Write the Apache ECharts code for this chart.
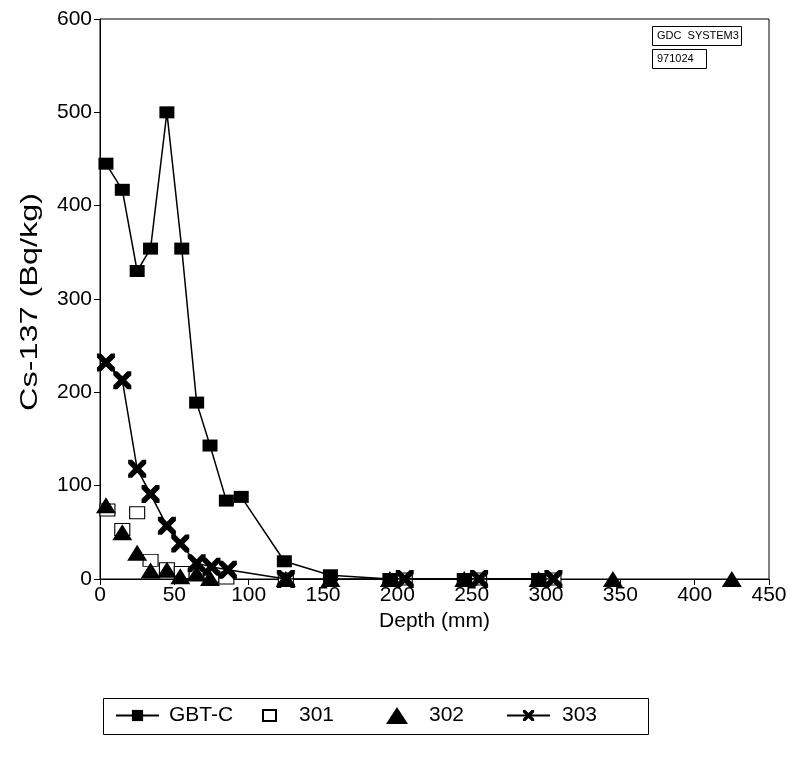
<!DOCTYPE html>
<html>
<head>
<meta charset="utf-8">
<script src="https://cdn.jsdelivr.net/npm/echarts@6/dist/echarts.min.js"></script>
<style>
html,body{margin:0;padding:0;background:#fff;}
#chart{width:794px;height:767px;}
</style>
</head>
<body>
<div id="chart"></div>
<script>
// Data
const gbtDepth = [4, 15, 25, 34, 45, 55, 65, 74, 85, 95, 124, 155, 195, 245, 295];
const gbtCs    = [445, 417, 330, 354, 500, 354, 189, 143, 84, 88, 19, 4, 0, 0, 0];

const s301Depth = [5, 15, 25, 34, 45, 55, 65, 75, 85, 125, 205, 255, 305];
const s301Cs    = [74, 53, 71, 20, 11, 7, 5, 3, 1, 0, 0, 0, 0];

const s302Depth = [4, 15, 25, 34, 45, 54, 65, 74, 125, 155, 195, 245, 295, 345, 425];
const s302Cs    = [79, 50, 28, 9, 10, 3, 6, 1, 0, 0, 0, 0, 0, 0, 0];

const s303Depth = [4, 15, 25, 34, 45, 54, 65, 75, 86, 125, 205, 255, 305];
const s303Cs    = [232, 213, 118, 91, 57, 38, 17, 13, 10, 0, 0, 0, 0];

const seriesNames = ['GBT-C', '301', '302', '303'];
const xTicks = [0, 450, 50];
const yTicks = [0, 600, 100];
const xTitle = 'Depth (mm)';
const yTitle = 'Cs-137 (Bq/kg)';
const noteLines = ['GDC  SYSTEM3', '971024'];

function pairs(xs, ys) { return xs.map((x, i) => [x, ys[i]]); }

const FONT = '"Liberation Sans", Arial, sans-serif';
const xPath = 'path://M0,0 L2.2,0 L5,2.8 L7.8,0 L10,0 L10,2.2 L7.2,5 L10,7.8 L10,10 L7.8,10 L5,7.2 L2.2,10 L0,10 L0,7.8 L2.8,5 L0,2.2 Z';

const chart = echarts.init(document.getElementById('chart'), null, {renderer: 'canvas'});

function legendAt(name, left, w, h, gap) {
  return {
    data: [name],
    left: left, top: 705,
    itemWidth: w, itemHeight: h, itemGap: 0,
    padding: 0,
    textStyle: {fontFamily: FONT, fontSize: 21, color: '#000', padding: [0, 0, 0, gap - 5]},
    selectedMode: false
  };
}

const option = {
  backgroundColor: '#fff',
  animation: false,
  grid: {left: 100, right: 25, top: 19, bottom: 188, show: true, borderColor: '#000', borderWidth: 1},
  xAxis: {
    type: 'value', min: xTicks[0], max: xTicks[1], interval: xTicks[2],
    name: xTitle, nameLocation: 'middle', nameGap: 18,
    nameTextStyle: {fontFamily: FONT, fontSize: 21, color: '#000'},
    axisLine: {show: true, lineStyle: {color: '#000', width: 1}},
    axisTick: {show: true, inside: false, length: 6, lineStyle: {color: '#000'}},
    axisLabel: {fontFamily: FONT, fontSize: 21, color: '#000', margin: 6},
    splitLine: {show: false}
  },
  yAxis: {
    type: 'value', min: yTicks[0], max: yTicks[1], interval: yTicks[2],
    axisLine: {show: true, lineStyle: {color: '#000', width: 1}},
    axisTick: {show: true, inside: false, length: 6, lineStyle: {color: '#000'}},
    axisLabel: {fontFamily: FONT, fontSize: 21, color: '#000', margin: 8},
    splitLine: {show: false}
  },
  legend: [
    legendAt(seriesNames[0], 115, 43, 14, 10),
    legendAt(seriesNames[1], 262, 13, 11, 23),
    legendAt(seriesNames[2], 386, 22, 17, 21),
    legendAt(seriesNames[3], 506, 43, 14, 12)
  ],
  graphic: [
    {type: 'text', x: 30, y: 302, rotation: Math.PI / 2, scaleX: 1.35, scaleY: 1,
     style: {text: yTitle, font: '24px ' + FONT, fill: '#000', align: 'center', verticalAlign: 'middle'}},
    {type: 'rect', shape: {x: 103.5, y: 698.5, width: 545, height: 36}, style: {fill: 'none', stroke: '#000', lineWidth: 1}},
    {type: 'rect', shape: {x: 652.5, y: 26.5, width: 89, height: 19}, style: {fill: '#fff', stroke: '#000', lineWidth: 1}},
    {type: 'text', left: 657, top: 30, style: {text: noteLines[0], font: '11px ' + FONT, fill: '#000'}},
    {type: 'rect', shape: {x: 652.5, y: 49.5, width: 54, height: 19}, style: {fill: '#fff', stroke: '#000', lineWidth: 1}},
    {type: 'text', left: 657, top: 53, style: {text: noteLines[1], font: '11px ' + FONT, fill: '#000'}}
  ],
  series: [
    {
      name: seriesNames[0], type: 'line', data: pairs(gbtDepth, gbtCs),
      symbol: 'rect', symbolSize: [15, 12],
      lineStyle: {color: '#000', width: 1.5},
      itemStyle: {color: '#000', borderWidth: 0}
    },
    {
      name: seriesNames[1], type: 'scatter', data: pairs(s301Depth, s301Cs),
      symbol: 'rect', symbolSize: [15, 12],
      itemStyle: {color: '#fff', borderColor: '#000', borderWidth: 1, opacity: 1}
    },
    {
      name: seriesNames[2], type: 'scatter', data: pairs(s302Depth, s302Cs),
      symbol: 'triangle', symbolSize: [20, 16],
      itemStyle: {color: '#000', borderWidth: 0, opacity: 1}
    },
    {
      name: seriesNames[3], type: 'line', data: pairs(s303Depth, s303Cs),
      symbol: xPath, symbolSize: 18,
      lineStyle: {color: '#000', width: 1.5},
      itemStyle: {color: '#000', borderWidth: 0}
    }
  ]
};
chart.setOption(option);
</script>
</body>
</html>
